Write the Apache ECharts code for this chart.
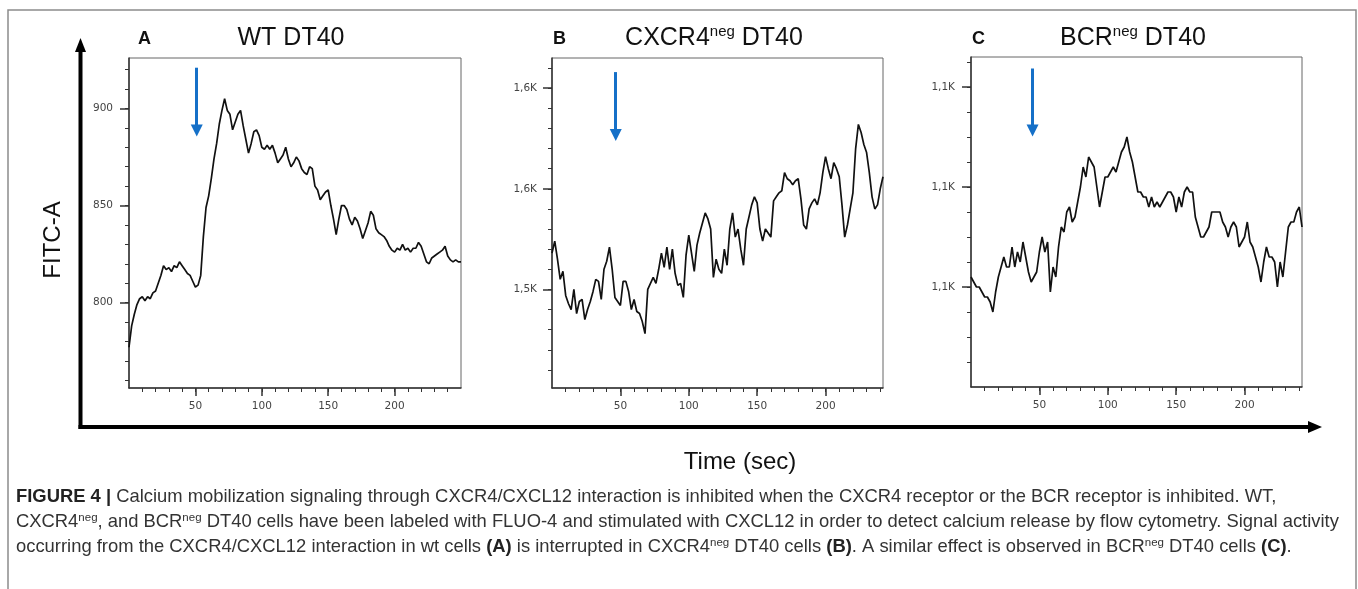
<!DOCTYPE html>
<html><head><meta charset="utf-8">
<script src="https://cdn.jsdelivr.net/npm/echarts@6/dist/echarts.min.js"></script>
<style>html,body{margin:0;padding:0;background:#fff}#c{width:1358px;height:589px}</style>
</head><body><div id="c"></div>
<script>
// ---- data ----
const timesA = [0,2,4,6,8,10,12,14,16,18,20,22,24,26,28,30,32,34,36,38,40,42,44,46,48,50,52,54,56,58,60,62,64,66,68,70,72,74,76,78,80,82,84,86,88,90,92,94,96,98,100,102,104,106,108,110,112,114,116,118,120,122,124,126,128,130,132,134,136,138,140,142,144,146,148,150,152,154,156,158,160,162,164,166,168,170,172,174,176,178,180,182,184,186,188,190,192,194,196,198,200,202,204,206,208,210,212,214,216,218,220,222,224,226,228,230,232,234,236,238,240,242,244,246,248,250];
const valuesA = [777,788,794,799,802,803,801,803,802,805,
806,810,814,819,817,818,816,819,818,821,
819,817,815,814,811,808,809,814,834,849,
855,864,874,882,892,899,905,899,897,889,
893,897,899,891,884,877,882,888,889,886,
880,879,881,879,881,877,872,874,876,880,
874,870,872,875,873,869,867,866,870,869,
860,858,853,855,857,858,850,843,835,843,
850,850,848,843,840,844,842,838,833,837,
841,847,845,838,836,835,834,832,829,827,
826,828,827,830,827,828,826,828,828,831,
829,825,821,820,823,824,825,826,827,829,
824,822,821,822,821,821];
const timesBC = [0,2,4,6,8,10,12,14,16,18,20,22,24,26,28,30,32,34,36,38,40,42,44,46,48,50,52,54,56,58,60,62,64,66,68,70,72,74,76,78,80,82,84,86,88,90,92,94,96,98,100,102,104,106,108,110,112,114,116,118,120,122,124,126,128,130,132,134,136,138,140,142,144,146,148,150,152,154,156,158,160,162,164,166,168,170,172,174,176,178,180,182,184,186,188,190,192,194,196,198,200,202,204,206,208,210,212,214,216,218,220,222,224,226,228,230,232,234,236,238,240,242];
const valuesB = [1518,1524,1515,1505,1509,1497,1493,1490,1500,1488,
1494,1495,1485,1490,1494,1499,1505,1504,1495,1510,
1514,1521,1510,1496,1494,1492,1504,1504,1499,1490,
1495,1489,1488,1484,1478,1500,1503,1506,1503,1510,
1518,1511,1521,1510,1520,1508,1502,1503,1496,1517,
1527,1518,1509,1522,1528,1533,1538,1535,1530,1506,
1515,1510,1508,1520,1512,1530,1538,1526,1530,1520,
1512,1530,1536,1542,1546,1543,1530,1524,1530,1528,
1526,1544,1546,1548,1549,1558,1555,1554,1552,1554,
1555,1545,1532,1530,1540,1543,1545,1542,1548,1558,
1566,1560,1555,1563,1560,1556,1542,1526,1532,1540,
1548,1570,1582,1578,1572,1568,1558,1546,1540,1542,
1550,1556];
const valuesC = [1082,1081,1080,1080,1079,1078,1078,1077,1075,1079,
1082,1084,1086,1084,1084,1088,1084,1087,1085,1089,
1086,1083,1081,1082,1083,1087,1090,1087,1089,1079,
1084,1082,1088,1092,1091,1095,1096,1093,1094,1097,
1100,1104,1102,1106,1105,1104,1100,1096,1099,1102,
1102,1103,1104,1103,1105,1107,1108,1110,1107,1105,
1102,1099,1099,1098,1098,1096,1098,1096,1097,1096,
1097,1098,1099,1099,1098,1095,1098,1096,1099,1100,
1099,1099,1094,1092,1090,1090,1091,1092,1095,1095,
1095,1095,1093,1092,1090,1092,1093,1092,1088,1089,
1090,1093,1089,1088,1086,1084,1081,1085,1088,1086,
1086,1085,1080,1085,1082,1087,1092,1093,1093,1095,
1096,1092];

const panelLetters = ['A','B','C'];
const panelNames = ['WT DT40','{m|CXCR4}{s|neg}{m| DT40}','{m|BCR}{s|neg}{m| DT40}'];
// stimulation arrows (time, top value, arrow-head value)
const arrowTimes = [51, 46.6, 45];
const arrowTops = [921, 1608, 1123.7];
const arrowHeads = [888.7, 1576.7, 1111.3];

const xMajorTicks = [50,100,150,200];
const xMinorTicks = [10,20,30,40,50,60,70,80,90,100,110,120,130,140,150,160,170,180,190,200,210,220,230,240];
const yMajorA = [800,850,900];       const yLabelsA = ['800','850','900'];
const yMajorB = [1500,1550,1600];    const yLabelsB = ['1,5K','1,6K','1,6K'];
const yMajorC = [1080,1100,1120];    const yLabelsC = ['1,1K','1,1K','1,1K'];
const yMinorA = [760,770,780,790,800,810,820,830,840,850,860,870,880,890,900,910,920];
const yMinorB = [1460,1470,1480,1490,1500,1510,1520,1530,1540,1550,1560,1570,1580,1590,1600,1610];
const yMinorC = [1065,1070,1075,1080,1085,1090,1095,1100,1105,1110,1115,1120,1125];
const yAxisTitle = 'FITC-A';
const xAxisTitle = 'Time (sec)';

// ---- layout ----
const panels = [
  {grid:{left:129,top:58,width:332,height:330}, xMax:250, yMin:756, yMax:926, t:timesA, v:valuesA, yMaj:yMajorA, yLab:yLabelsA, yMin2:yMinorA, lm:16},
  {grid:{left:552,top:58,width:331,height:330}, xMax:242, yMin:1451, yMax:1615, t:timesBC, v:valuesB, yMaj:yMajorB, yLab:yLabelsB, yMin2:yMinorB, lm:15},
  {grid:{left:971,top:57,width:331,height:330}, xMax:242, yMin:1060, yMax:1126, t:timesBC, v:valuesC, yMaj:yMajorC, yLab:yLabelsC, yMin2:yMinorC, lm:16}
];
const titlePos = [[291,38],[714,38],[1133,38]];
const letterPos = [[138,39],[553,39],[972,39]];

const tickFont = {fontFamily:'DejaVu Sans', fontSize:10.5, color:'#444'};
const grids = [], xAxes = [], yAxes = [], series = [];
panels.forEach((p, i) => {
  grids.push(Object.assign({show:true, borderColor:'#666', borderWidth:1, backgroundColor:'transparent'}, p.grid));
  xAxes.push({type:'value', gridIndex:i, position:'bottom', min:0, max:p.xMax,
    axisLine:{show:true, lineStyle:{color:'#333', width:1.5}},
    axisTick:{show:true, customValues:xMajorTicks, length:8, lineStyle:{color:'#333', width:1.5}},
    axisLabel:Object.assign({show:true, customValues:xMajorTicks, margin:13}, tickFont),
    splitLine:{show:false}});
  xAxes.push({type:'value', gridIndex:i, position:'bottom', offset:0, min:0, max:p.xMax,
    axisLine:{show:false},
    axisTick:{show:true, customValues:xMinorTicks, length:4, lineStyle:{color:'#333', width:1}},
    axisLabel:{show:false}, splitLine:{show:false}});
  yAxes.push({type:'value', gridIndex:i, position:'left', min:p.yMin, max:p.yMax,
    axisLine:{show:true, lineStyle:{color:'#333', width:1.5}},
    axisTick:{show:true, customValues:p.yMaj, length:9, lineStyle:{color:'#333', width:1.5}},
    axisLabel:Object.assign({show:true, customValues:p.yMaj, margin:p.lm,
      formatter:(val)=>{const k=p.yMaj.indexOf(val); return k>=0?p.yLab[k]:'';}}, tickFont),
    splitLine:{show:false}});
  yAxes.push({type:'value', gridIndex:i, position:'left', offset:0, min:p.yMin, max:p.yMax,
    axisLine:{show:false},
    axisTick:{show:true, customValues:p.yMin2, length:4, lineStyle:{color:'#333', width:1}},
    axisLabel:{show:false}, splitLine:{show:false}});
  series.push({type:'line', xAxisIndex:2*i, yAxisIndex:2*i, showSymbol:false, symbol:'none',
    data:p.t.map((t,k)=>[t, p.v[k]]),
    lineStyle:{color:'#111', width:1.7}, silent:true,
    markLine:{silent:true, symbol:['none','triangle'], symbolSize:[12,12], animation:false,
      lineStyle:{color:'#1570c8', width:3, type:'solid'}, label:{show:false},
      emphasis:{disabled:true},
      data:[[{coord:[arrowTimes[i], arrowTops[i]]},{coord:[arrowTimes[i], arrowHeads[i]]}]]}});
});

const txt = (x,y,text,extra) => ({type:'text', x, y, silent:true, style:Object.assign({text, fill:'#111', fontFamily:'Liberation Sans', align:'center', verticalAlign:'middle'}, extra||{})});

const graphics = [
  {type:'rect', shape:{x:8, y:10, width:1348, height:640}, style:{fill:'none', stroke:'#8c8c8c', lineWidth:1.5}, silent:true},
  // big axes with arrows
  {type:'line', shape:{x1:80.5, y1:429, x2:80.5, y2:50}, style:{stroke:'#000', lineWidth:4}, silent:true},
  {type:'polygon', shape:{points:[[80.5,38],[75,52],[86,52]]}, style:{fill:'#000'}, silent:true},
  {type:'line', shape:{x1:78.5, y1:427, x2:1310, y2:427}, style:{stroke:'#000', lineWidth:4}, silent:true},
  {type:'polygon', shape:{points:[[1322,427],[1308,421],[1308,433]]}, style:{fill:'#000'}, silent:true},
  txt(53, 240, yAxisTitle, {fontSize:24}),
  txt(740, 462, xAxisTitle, {fontSize:24})
];
graphics[5].rotation = Math.PI/2;
panels.forEach((p,i)=>{
  graphics.push(txt(letterPos[i][0], letterPos[i][1], panelLetters[i], {fontSize:18, fontWeight:'bold', align:'left'}));
  graphics.push(txt(titlePos[i][0], titlePos[i][1], panelNames[i], {fontSize:25,
    rich:{m:{fontSize:25, fontFamily:'Liberation Sans', fill:'#111', lineHeight:28},
          s:{fontSize:15, fontFamily:'Liberation Sans', fill:'#111', lineHeight:15, verticalAlign:'top'}}}));
});
const captionLines = [
  '{b|FIGURE 4 |} Calcium mobilization signaling through CXCR4/CXCL12 interaction is inhibited when the CXCR4 receptor or the BCR receptor is inhibited. WT,',
  'CXCR4{s|neg}, and BCR{s|neg} DT40 cells have been labeled with FLUO-4 and stimulated with CXCL12 in order to detect calcium release by flow cytometry. Signal activity',
  'occurring from the CXCR4/CXCL12 interaction in wt cells {b|(A)} is interrupted in CXCR4{s|neg} DT40 cells {b|(B)}. A similar effect is observed in BCR{s|neg} DT40 cells {b|(C)}.'
];
const capY = [497, 522, 547];
captionLines.forEach((l,i)=>{
  graphics.push(txt(16, capY[i], l, {fontSize:18.4, fill:'#333', align:'left', lineHeight:20,
    rich:{b:{fontWeight:'bold', fontSize:18.4, fill:'#222', fontFamily:'Liberation Sans', lineHeight:20},
          s:{fontSize:11.5, fill:'#333', fontFamily:'Liberation Sans', lineHeight:11, verticalAlign:'top'}}}));
});

const chart = echarts.init(document.getElementById('c'), null, {renderer:'canvas'});
chart.setOption({animation:false, backgroundColor:'#fff', grid:grids, xAxis:xAxes, yAxis:yAxes, series, graphic:graphics});
</script></body></html>
